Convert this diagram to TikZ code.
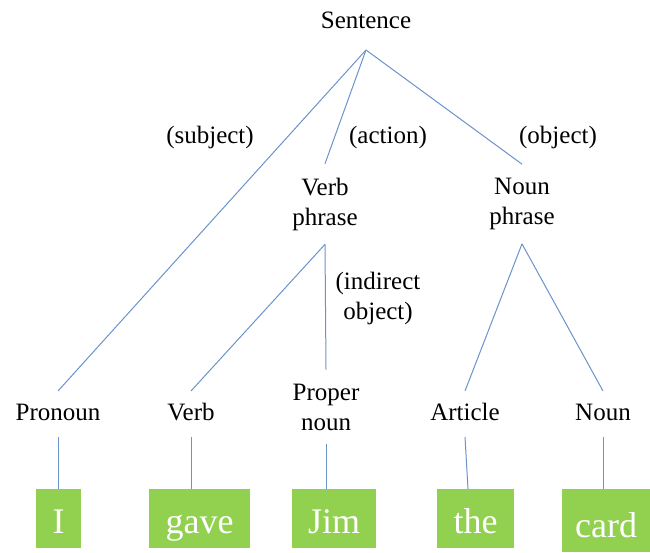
\documentclass[tikz,border=0pt]{standalone}
\usepackage{fontspec}
\setmainfont{Liberation Serif}
\begin{document}
\begin{tikzpicture}[x=1pt,y=-1pt,
  lab/.style={font=\fontsize{25}{30}\selectfont, inner sep=0pt, align=center},
  cat/.style={lab, text height=17pt, text depth=5pt, outer ysep=12pt},
  phr/.style={lab, outer ysep=14pt},
  word/.style={fill=leaf, text=white, font=\fontsize{36}{40}\selectfont,
    inner sep=0pt, anchor=north west, text height=29pt, text depth=0pt},
  conn/.style={draw=branch, line width=1pt}
]
\definecolor{leaf}{HTML}{92D050}
\definecolor{branch}{HTML}{6A93C9}
\useasboundingbox (0,0) rectangle (650,552);

% root
\node[cat, outer ysep=17pt] (S) at (366,22) {Sentence};

% phrase level
\node[phr] (VP) at (325,204) {Verb\\phrase};
\node[phr] (NP) at (522,204) {Noun\\phrase};

% word categories
\node[cat] (Pro) at (58,414) {Pronoun};
\node[cat] (V)   at (191,414) {Verb};
\node[phr] (PN)  at (326,407) {Proper\\noun};
\node[cat] (Art) at (465,414) {Article};
\node[cat] (N)   at (603,414) {Noun};

% words
\node[word, minimum width=45pt, minimum height=59pt] (w1) at (36,489) {I};
\node[word, minimum width=101pt, minimum height=59pt] (w2) at (149,489) {gave};
\node[word, minimum width=84pt, minimum height=59pt] (w3) at (292,489) {Jim};
\node[word, minimum width=77pt, minimum height=59pt] (w4) at (437,489) {the};
\node[word, minimum width=88pt, minimum height=63pt, text height=33pt] (w5) at (562,489) {card};

% role labels
\node[lab] (rs) at (210,137) {(subject)};
\node[lab] (ra) at (388,137) {(action)};
\node[lab] (ro) at (558,137) {(object)};
\node[lab] (ri) at (378,298) {(indirect\\object)};

% branches
\draw[conn] (S.south) -- (Pro.north);
\draw[conn] (S.south) -- (VP.north);
\draw[conn] (S.south) -- (NP.north);
\draw[conn] (VP.south) -- (V.north);
\draw[conn] (VP.south) -- (PN.north);
\draw[conn] (NP.south) -- (Art.north);
\draw[conn] (NP.south) -- (N.north);
\draw[conn] (Pro.south) -- (Pro.south |- w1.north);
\draw[conn] (V.south) -- (V.south |- w2.north);
\draw[conn] (PN.south) -- (PN.south |- w3.north);
\draw[conn] (Art.south) -- ([xshift=3pt]Art.south |- w4.north);
\draw[conn] (N.south) -- (N.south |- w5.north);
\end{tikzpicture}
\end{document}
